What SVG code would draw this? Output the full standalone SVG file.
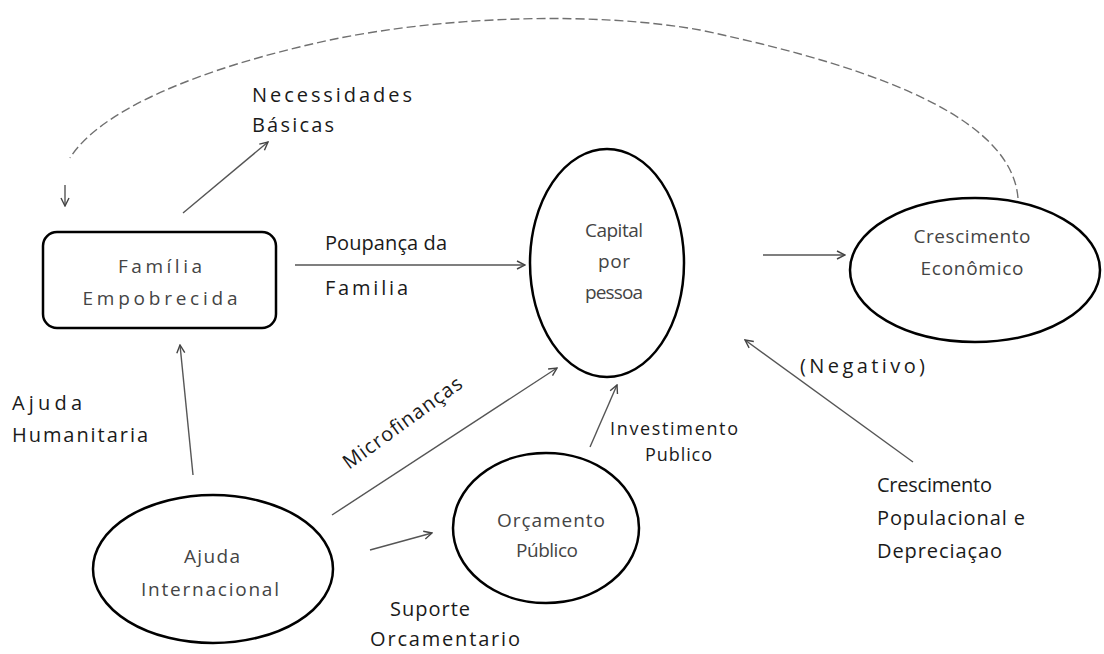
<svg xmlns="http://www.w3.org/2000/svg" width="1104" height="654" viewBox="0 0 1104 654">
<defs>
<marker id="ah" viewBox="0 0 10 10" refX="9" refY="5" markerWidth="10" markerHeight="10" markerUnits="userSpaceOnUse" orient="auto">
<path d="M1,1 L9,5 L1,9" fill="none" stroke="#444" stroke-width="1.4"/>
</marker>
</defs>
<style>
text{font-family:"Open Sans","Liberation Sans",sans-serif;font-size:20px;fill:#1a1a1a}
.n text{fill:#444;text-anchor:middle;font-size:19px}
.node{fill:#fff;stroke:#000;stroke-width:2.5}
.c{fill:none;stroke:#555;stroke-width:1.4}
.d{fill:none;stroke:#707070;stroke-width:1.4;stroke-dasharray:9 4}
.s{font-size:18px}
</style>
<rect width="1104" height="654" fill="#fff"/>
<g id="connectors">
<path class="d" d="M1018,198 C1012,125 900,72 700,30 C600,12 450,15 330,40 C200,68 100,110 70,158"/>
<line class="c" x1="65" y1="185" x2="65" y2="206" marker-end="url(#ah)"/>
<line class="c" x1="183" y1="213" x2="268" y2="142" marker-end="url(#ah)"/>
<line class="c" x1="295" y1="265" x2="525" y2="265" marker-end="url(#ah)"/>
<line class="c" x1="763" y1="255" x2="845" y2="255" marker-end="url(#ah)"/>
<line class="c" x1="913" y1="462" x2="745" y2="340" marker-end="url(#ah)"/>
<line class="c" x1="590" y1="447" x2="617" y2="385" marker-end="url(#ah)"/>
<line class="c" x1="332" y1="515" x2="557" y2="368" marker-end="url(#ah)"/>
<line class="c" x1="370" y1="550" x2="432" y2="533" marker-end="url(#ah)"/>
<line class="c" x1="193" y1="475" x2="180" y2="345" marker-end="url(#ah)"/>
</g>
<g id="labels">
<text x="252" y="102" textLength="160">Necessidades</text>
<text x="252" y="132" textLength="82">Básicas</text>
<text x="325" y="250" textLength="122">Poupança da</text>
<text x="325" y="295" textLength="83">Familia</text>
<text x="800" y="373" textLength="125">(Negativo)</text>
<text x="877" y="492" textLength="115">Crescimento</text>
<text x="877" y="525" textLength="148">Populacional e</text>
<text x="877" y="558" textLength="125">Depreciaçao</text>
<text class="s" x="610" y="435" textLength="128">Investimento</text>
<text class="s" x="645" y="461" textLength="67">Publico</text>
<text x="12" y="410" textLength="70">Ajuda</text>
<text x="12" y="442" textLength="136">Humanitaria</text>
<text x="390" y="616" textLength="80">Suporte</text>
<text x="370" y="646" textLength="150">Orcamentario</text>
<text transform="translate(349,470) rotate(-36)" textLength="142">Microfinanças</text>
</g>
<g id="familia" class="n">
<rect class="node" x="43" y="232" width="233" height="96" rx="14"/>
<text x="160" y="273" textLength="84">Família</text>
<text x="160" y="305" textLength="155">Empobrecida</text>
</g>
<g id="capital" class="n">
<ellipse class="node" cx="607" cy="263" rx="77" ry="114"/>
<text x="614" y="237" textLength="58">Capital</text>
<text x="614" y="268" textLength="32">por</text>
<text x="614" y="299" textLength="58">pessoa</text>
</g>
<g id="crescimento" class="n">
<ellipse class="node" cx="975" cy="270" rx="125" ry="72"/>
<text x="972" y="243" textLength="117">Crescimento</text>
<text x="972" y="275" textLength="103">Econômico</text>
</g>
<g id="orcamento" class="n">
<ellipse class="node" cx="546" cy="528" rx="93" ry="75"/>
<text x="551" y="527" textLength="108">Orçamento</text>
<text x="547" y="557" textLength="62">Público</text>
</g>
<g id="ajuda" class="n">
<ellipse class="node" cx="213" cy="569" rx="120" ry="74"/>
<text x="212" y="563" textLength="56">Ajuda</text>
<text x="210" y="596" textLength="138">Internacional</text>
</g>
</svg>
